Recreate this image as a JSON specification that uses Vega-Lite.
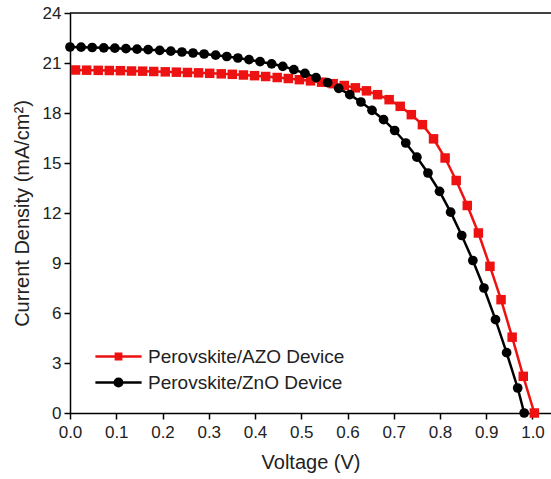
{
  "$schema": "https://vega.github.io/schema/vega-lite/v6.json",
  "width": 481,
  "height": 400,
  "autosize": {"type": "none"},
  "padding": {"left": 70, "top": 13, "right": 0, "bottom": 66},
  "background": "white",
  "config": {
    "view": {"stroke": null},
    "font": "Liberation Sans",
    "axis": {
      "grid": false,
      "domainColor": "#000000",
      "domainWidth": 1.5,
      "tickColor": "#000000",
      "tickWidth": 1.5,
      "labelFont": "Liberation Sans",
      "labelFontSize": 17,
      "labelColor": "#222222",
      "labelFlush": false,
      "titleFont": "Liberation Sans",
      "titleFontSize": 20,
      "titleFontWeight": "normal",
      "titleColor": "#222222"
    },
    "legend": {
      "padding": 0,
      "labelFont": "Liberation Sans",
      "labelFontSize": 19,
      "labelColor": "#222222",
      "labelOffset": 14,
      "labelLimit": 400,
      "rowPadding": 0,
      "symbolSize": 784,
      "symbolStrokeWidth": 2.5
    }
  },
  "data": {
    "values": [
      {"series": "Perovskite/AZO Device", "V": 0.012, "J": 20.58},
      {"series": "Perovskite/AZO Device", "V": 0.036, "J": 20.57},
      {"series": "Perovskite/AZO Device", "V": 0.061, "J": 20.56},
      {"series": "Perovskite/AZO Device", "V": 0.085, "J": 20.55},
      {"series": "Perovskite/AZO Device", "V": 0.109, "J": 20.54},
      {"series": "Perovskite/AZO Device", "V": 0.133, "J": 20.52},
      {"series": "Perovskite/AZO Device", "V": 0.157, "J": 20.51},
      {"series": "Perovskite/AZO Device", "V": 0.181, "J": 20.49},
      {"series": "Perovskite/AZO Device", "V": 0.206, "J": 20.47},
      {"series": "Perovskite/AZO Device", "V": 0.230, "J": 20.45},
      {"series": "Perovskite/AZO Device", "V": 0.254, "J": 20.43},
      {"series": "Perovskite/AZO Device", "V": 0.278, "J": 20.41},
      {"series": "Perovskite/AZO Device", "V": 0.302, "J": 20.38},
      {"series": "Perovskite/AZO Device", "V": 0.327, "J": 20.35},
      {"series": "Perovskite/AZO Device", "V": 0.351, "J": 20.32},
      {"series": "Perovskite/AZO Device", "V": 0.375, "J": 20.28},
      {"series": "Perovskite/AZO Device", "V": 0.399, "J": 20.24},
      {"series": "Perovskite/AZO Device", "V": 0.423, "J": 20.19},
      {"series": "Perovskite/AZO Device", "V": 0.448, "J": 20.13},
      {"series": "Perovskite/AZO Device", "V": 0.472, "J": 20.07},
      {"series": "Perovskite/AZO Device", "V": 0.496, "J": 20.00},
      {"series": "Perovskite/AZO Device", "V": 0.520, "J": 19.93},
      {"series": "Perovskite/AZO Device", "V": 0.544, "J": 19.85},
      {"series": "Perovskite/AZO Device", "V": 0.569, "J": 19.76},
      {"series": "Perovskite/AZO Device", "V": 0.593, "J": 19.65},
      {"series": "Perovskite/AZO Device", "V": 0.617, "J": 19.51},
      {"series": "Perovskite/AZO Device", "V": 0.641, "J": 19.33},
      {"series": "Perovskite/AZO Device", "V": 0.665, "J": 19.10},
      {"series": "Perovskite/AZO Device", "V": 0.690, "J": 18.80},
      {"series": "Perovskite/AZO Device", "V": 0.714, "J": 18.40},
      {"series": "Perovskite/AZO Device", "V": 0.738, "J": 17.90},
      {"series": "Perovskite/AZO Device", "V": 0.762, "J": 17.30},
      {"series": "Perovskite/AZO Device", "V": 0.786, "J": 16.45},
      {"series": "Perovskite/AZO Device", "V": 0.811, "J": 15.30},
      {"series": "Perovskite/AZO Device", "V": 0.835, "J": 13.95},
      {"series": "Perovskite/AZO Device", "V": 0.859, "J": 12.45},
      {"series": "Perovskite/AZO Device", "V": 0.883, "J": 10.80},
      {"series": "Perovskite/AZO Device", "V": 0.908, "J": 8.80},
      {"series": "Perovskite/AZO Device", "V": 0.932, "J": 6.80},
      {"series": "Perovskite/AZO Device", "V": 0.956, "J": 4.55},
      {"series": "Perovskite/AZO Device", "V": 0.980, "J": 2.20},
      {"series": "Perovskite/AZO Device", "V": 1.004, "J": 0.00},
      {"series": "Perovskite/ZnO Device", "V": 0.000, "J": 21.96},
      {"series": "Perovskite/ZnO Device", "V": 0.024, "J": 21.95},
      {"series": "Perovskite/ZnO Device", "V": 0.048, "J": 21.93},
      {"series": "Perovskite/ZnO Device", "V": 0.073, "J": 21.91},
      {"series": "Perovskite/ZnO Device", "V": 0.097, "J": 21.89},
      {"series": "Perovskite/ZnO Device", "V": 0.121, "J": 21.86},
      {"series": "Perovskite/ZnO Device", "V": 0.145, "J": 21.83},
      {"series": "Perovskite/ZnO Device", "V": 0.169, "J": 21.80},
      {"series": "Perovskite/ZnO Device", "V": 0.194, "J": 21.76},
      {"series": "Perovskite/ZnO Device", "V": 0.218, "J": 21.71},
      {"series": "Perovskite/ZnO Device", "V": 0.242, "J": 21.66},
      {"series": "Perovskite/ZnO Device", "V": 0.266, "J": 21.60},
      {"series": "Perovskite/ZnO Device", "V": 0.290, "J": 21.54},
      {"series": "Perovskite/ZnO Device", "V": 0.315, "J": 21.47},
      {"series": "Perovskite/ZnO Device", "V": 0.339, "J": 21.39},
      {"series": "Perovskite/ZnO Device", "V": 0.363, "J": 21.30},
      {"series": "Perovskite/ZnO Device", "V": 0.387, "J": 21.20},
      {"series": "Perovskite/ZnO Device", "V": 0.411, "J": 21.08},
      {"series": "Perovskite/ZnO Device", "V": 0.436, "J": 20.95},
      {"series": "Perovskite/ZnO Device", "V": 0.460, "J": 20.80},
      {"series": "Perovskite/ZnO Device", "V": 0.484, "J": 20.60},
      {"series": "Perovskite/ZnO Device", "V": 0.508, "J": 20.38},
      {"series": "Perovskite/ZnO Device", "V": 0.532, "J": 20.12},
      {"series": "Perovskite/ZnO Device", "V": 0.557, "J": 19.82},
      {"series": "Perovskite/ZnO Device", "V": 0.581, "J": 19.48},
      {"series": "Perovskite/ZnO Device", "V": 0.605, "J": 19.10},
      {"series": "Perovskite/ZnO Device", "V": 0.629, "J": 18.66},
      {"series": "Perovskite/ZnO Device", "V": 0.653, "J": 18.16},
      {"series": "Perovskite/ZnO Device", "V": 0.678, "J": 17.60},
      {"series": "Perovskite/ZnO Device", "V": 0.702, "J": 16.95},
      {"series": "Perovskite/ZnO Device", "V": 0.726, "J": 16.20},
      {"series": "Perovskite/ZnO Device", "V": 0.750, "J": 15.35},
      {"series": "Perovskite/ZnO Device", "V": 0.774, "J": 14.40},
      {"series": "Perovskite/ZnO Device", "V": 0.799, "J": 13.30},
      {"series": "Perovskite/ZnO Device", "V": 0.823, "J": 12.05},
      {"series": "Perovskite/ZnO Device", "V": 0.847, "J": 10.65},
      {"series": "Perovskite/ZnO Device", "V": 0.871, "J": 9.15},
      {"series": "Perovskite/ZnO Device", "V": 0.895, "J": 7.50},
      {"series": "Perovskite/ZnO Device", "V": 0.920, "J": 5.60},
      {"series": "Perovskite/ZnO Device", "V": 0.944, "J": 3.62},
      {"series": "Perovskite/ZnO Device", "V": 0.968, "J": 1.50},
      {"series": "Perovskite/ZnO Device", "V": 0.982, "J": 0.00}
    ]
  },
  "layer": [
    {
      "data": {"values": [{}]},
      "mark": {"type": "rule", "color": "#000000", "strokeWidth": 1.5},
      "encoding": {
        "y": {"datum": 24, "type": "quantitative"}
      }
    },
    {
      "mark": {"type": "line", "strokeWidth": 2.5},
      "encoding": {
        "x": {
          "field": "V", "type": "quantitative",
          "scale": {"domain": [0, 1.04], "nice": false, "zero": false},
          "axis": {
            "orient": "bottom",
            "values": [0, 0.1, 0.2, 0.3, 0.4, 0.5, 0.6, 0.7, 0.8, 0.9, 1.0],
            "format": ".1f",
            "tickSize": 6,
            "labelPadding": 5,
            "title": "Voltage (V)",
            "titlePadding": 12
          }
        },
        "y": {
          "field": "J", "type": "quantitative",
          "scale": {"domain": [0, 24], "nice": false},
          "axis": {
            "orient": "left",
            "values": [0, 3, 6, 9, 12, 15, 18, 21, 24],
            "format": "d",
            "tickSize": 6,
            "labelPadding": 3,
            "title": "Current Density (mA/cm²)",
            "titlePadding": 10
          }
        },
        "color": {
          "field": "series", "type": "nominal",
          "scale": {"domain": ["Perovskite/AZO Device", "Perovskite/ZnO Device"], "range": ["#ee1111", "#000000"]},
          "legend": {
            "title": null,
            "orient": "none",
            "legendX": 33,
            "legendY": 328,
            "symbolType": "M-1.65,0H1.65M0.27,0A0.27,0.27 0 1 1 -0.27,0A0.27,0.27 0 1 1 0.27,0Z",
            "encode": {
              "symbols": {
                "update": {
                  "shape": {"signal": "datum.value === 'Perovskite/AZO Device' ? 'M-1.65,0H1.65M-0.19,-0.19H0.19V0.19H-0.19Z' : 'M-1.65,0H1.65M0.27,0A0.27,0.27 0 1 1 -0.27,0A0.27,0.27 0 1 1 0.27,0Z'"},
                  "fill": {"signal": "datum.value === 'Perovskite/AZO Device' ? '#ee1111' : '#000000'"},
                  "stroke": {"signal": "datum.value === 'Perovskite/AZO Device' ? '#ee1111' : '#000000'"},
                  "strokeWidth": {"value": 2.5},
                  "opacity": {"value": 1}
                }
              }
            }
          }
        }
      }
    },
    {
      "transform": [{"filter": "datum.series === 'Perovskite/AZO Device'"}],
      "mark": {"type": "point", "shape": "square", "filled": true, "size": 90, "opacity": 1, "strokeWidth": 0, "color": "#ee1111"},
      "encoding": {
        "x": {"field": "V", "type": "quantitative"},
        "y": {"field": "J", "type": "quantitative"}
      }
    },
    {
      "transform": [{"filter": "datum.series === 'Perovskite/ZnO Device'"}],
      "mark": {"type": "point", "shape": "circle", "filled": true, "size": 95, "opacity": 1, "strokeWidth": 0, "color": "#000000"},
      "encoding": {
        "x": {"field": "V", "type": "quantitative"},
        "y": {"field": "J", "type": "quantitative"}
      }
    }
  ]
}
